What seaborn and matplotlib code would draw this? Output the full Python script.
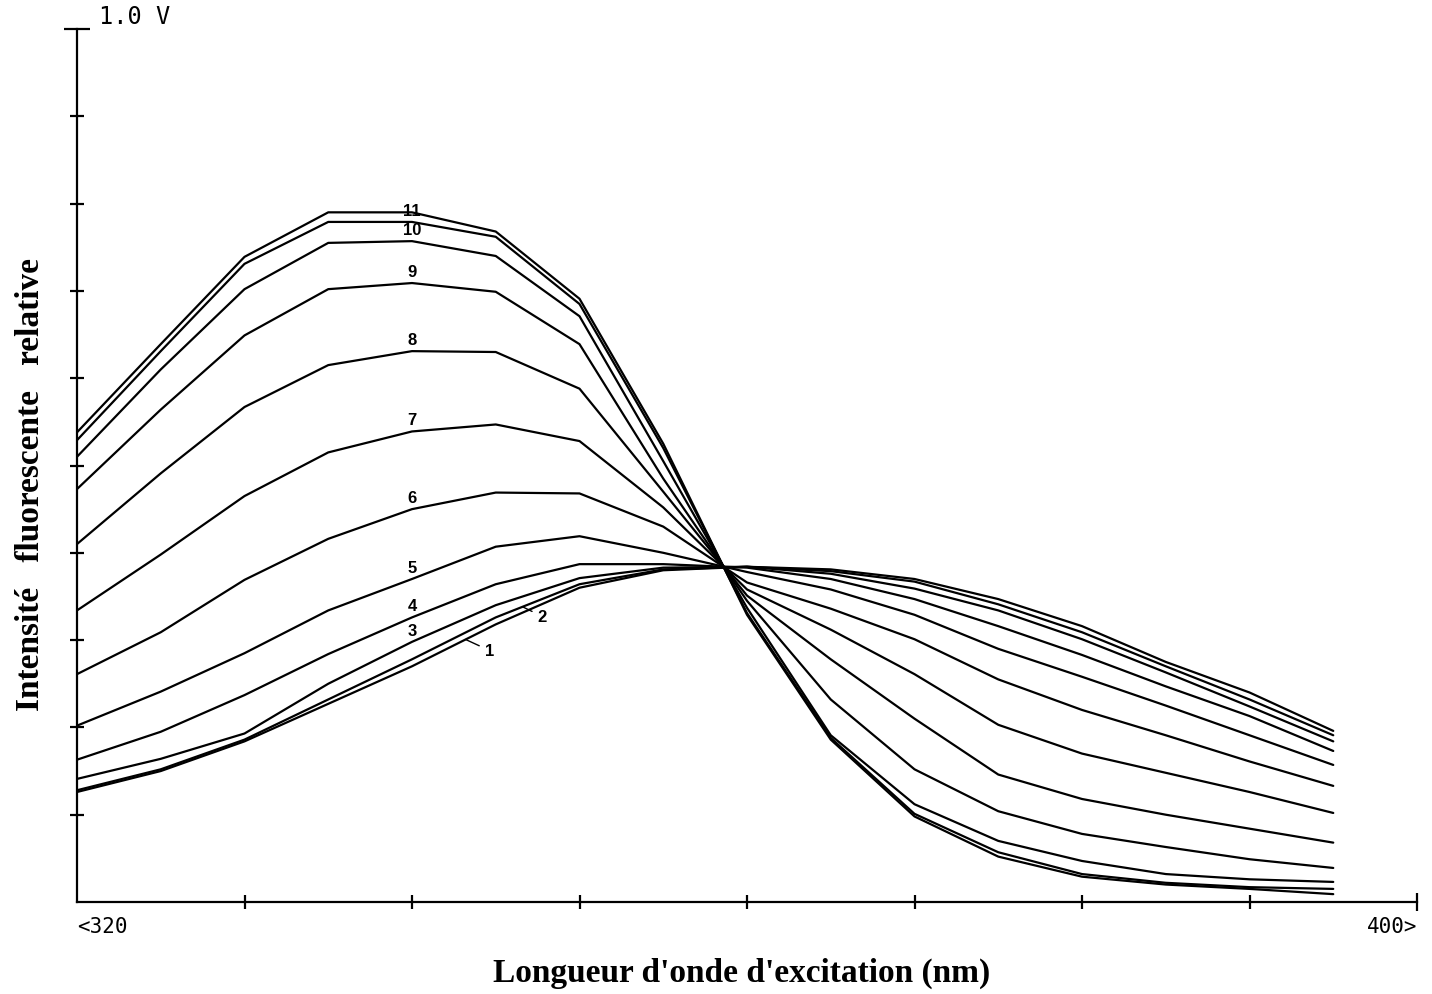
import numpy as np
import pandas as pd
import matplotlib
matplotlib.use("Agg")
import matplotlib.pyplot as plt
import seaborn as sns

# Excitation wavelengths (nm), one reading every 5 nm
wavelength = [320, 325, 330, 335, 340, 345, 350, 355, 360, 365, 370, 375, 380, 385, 390, 395]

# Relative fluorescence intensity (V) for each spectrum, bottom-left to top-left
c1 = [0.126, 0.150, 0.184, 0.227, 0.270, 0.318, 0.360, 0.380, 0.384, 0.381, 0.370, 0.347, 0.316, 0.275, 0.240, 0.196]
c2 = [0.128, 0.152, 0.186, 0.232, 0.278, 0.326, 0.364, 0.381, 0.384, 0.379, 0.367, 0.341, 0.309, 0.270, 0.232, 0.191]
c3 = [0.141, 0.164, 0.193, 0.250, 0.298, 0.340, 0.371, 0.383, 0.384, 0.376, 0.359, 0.334, 0.301, 0.263, 0.224, 0.184]
c4 = [0.163, 0.195, 0.237, 0.284, 0.326, 0.364, 0.387, 0.387, 0.383, 0.370, 0.347, 0.316, 0.283, 0.247, 0.213, 0.173]
c5 = [0.202, 0.241, 0.285, 0.334, 0.370, 0.407, 0.419, 0.400, 0.378, 0.358, 0.329, 0.290, 0.258, 0.225, 0.191, 0.157]
c6 = [0.261, 0.309, 0.369, 0.416, 0.450, 0.469, 0.468, 0.430, 0.366, 0.336, 0.301, 0.255, 0.220, 0.191, 0.161, 0.133]
c7 = [0.334, 0.398, 0.465, 0.515, 0.539, 0.547, 0.528, 0.452, 0.358, 0.312, 0.261, 0.203, 0.170, 0.148, 0.126, 0.102]
c8 = [0.410, 0.491, 0.567, 0.615, 0.631, 0.630, 0.588, 0.470, 0.351, 0.278, 0.210, 0.146, 0.118, 0.100, 0.084, 0.068]
c9 = [0.473, 0.564, 0.649, 0.702, 0.709, 0.699, 0.639, 0.485, 0.345, 0.232, 0.152, 0.104, 0.078, 0.063, 0.049, 0.039]
c10 = [0.510, 0.610, 0.702, 0.755, 0.757, 0.740, 0.671, 0.505, 0.337, 0.191, 0.112, 0.070, 0.047, 0.032, 0.026, 0.023]
c11 = [0.529, 0.631, 0.731, 0.779, 0.779, 0.762, 0.685, 0.520, 0.331, 0.188, 0.101, 0.057, 0.032, 0.022, 0.017, 0.015]
c12 = [0.538, 0.639, 0.739, 0.790, 0.790, 0.768, 0.691, 0.525, 0.329, 0.186, 0.098, 0.052, 0.029, 0.020, 0.015, 0.009]

spectra = [c1, c2, c3, c4, c5, c6, c7, c8, c9, c10, c11, c12]
curve_names = ["1", "2", "3", "4", "5", "6", "7", "8", "9", "10", "11", "12"]

df = pd.DataFrame(
    [(name, wl, v) for name, vals in zip(curve_names, spectra) for wl, v in zip(wavelength, vals)],
    columns=["courbe", "lambda", "intensite"],
)

sns.set_theme(style="white")
plt.rcParams["font.family"] = ["DejaVu Sans"]

fig = plt.figure(figsize=(14.32, 9.95), dpi=100)
fig.patch.set_facecolor("white")
ax = fig.add_axes([77 / 1432, 92 / 995, 1340 / 1432, 873 / 995])
ax.set_facecolor("none")

sns.lineplot(
    data=df, x="lambda", y="intensite", units="courbe", estimator=None,
    color="black", linewidth=1.6, ax=ax, legend=False,
)

ax.set_xlim(320, 400)
ax.set_ylim(0, 1.0)
for side in ("top", "right"):
    ax.spines[side].set_visible(False)
for side in ("left", "bottom"):
    ax.spines[side].set_color("black")
    ax.spines[side].set_linewidth(1.6)

# axis ticks: plain crossing marks, with a longer cap at the end of each axis
ax.set_yticks(np.arange(0.1, 0.95, 0.1))
ax.set_yticks([1.0], minor=True)
ax.set_xticks(np.arange(330, 395, 10))
ax.set_xticks([400], minor=True)
ax.tick_params(axis="both", which="both", left=True, bottom=True,
               labelleft=False, labelbottom=False, color="black", width=1.6,
               direction="inout")
ax.tick_params(axis="both", which="major", length=10)
ax.tick_params(axis="y", which="minor", length=19)
ax.tick_params(axis="x", which="minor", length=13)
ax.set_xlabel("")
ax.set_ylabel("")

mono = "DejaVu Sans Mono"
ax.annotate("1.0 V", xy=(320, 1.0), xytext=(16, 1), textcoords="offset points",
            ha="left", va="bottom", fontsize=17, family=mono, color="black")
ax.annotate("<320", xy=(320, 0), xytext=(0, -10), textcoords="offset points",
            ha="left", va="top", fontsize=15, family=mono, color="black")
ax.annotate("400>", xy=(400, 0), xytext=(0, -10), textcoords="offset points",
            ha="right", va="top", fontsize=15, family=mono, color="black")

fig.text(0.518, 0.006, "Longueur d'onde d'excitation (nm)", ha="center", va="bottom",
         fontsize=24, fontweight="bold", family="Liberation Serif", color="black")
fig.text(0.021, 0.513, "Intensité   fluorescente   relative", ha="center", va="center",
         rotation=90, fontsize=24, fontweight="bold", family="Liberation Serif", color="black")

# curve numbers written just above each spectrum near 340 nm
lab_font = dict(fontsize=12, fontweight="bold", family="Liberation Sans", color="black")
for name, vals in zip(curve_names[2:11], spectra[2:11]):
    yv = np.interp(340, wavelength, vals)
    ax.annotate(name, xy=(340, yv), xytext=(0, 3), textcoords="offset points",
                ha="center", va="bottom", **lab_font)

# spectra 1 and 2 are tagged with short leader lines
for name, vals, x0, off in (("1", c1, 343.2, (14, -8)), ("2", c2, 346.6, (11, -7))):
    yv = np.interp(x0, wavelength, vals)
    ax.annotate(name, xy=(x0, yv), xytext=off, textcoords="offset points",
                ha="left", va="center",
                arrowprops=dict(arrowstyle="-", color="black", lw=1.0, shrinkA=2, shrinkB=0),
                **lab_font)

fig.savefig("out.png", dpi=100, facecolor="white")
